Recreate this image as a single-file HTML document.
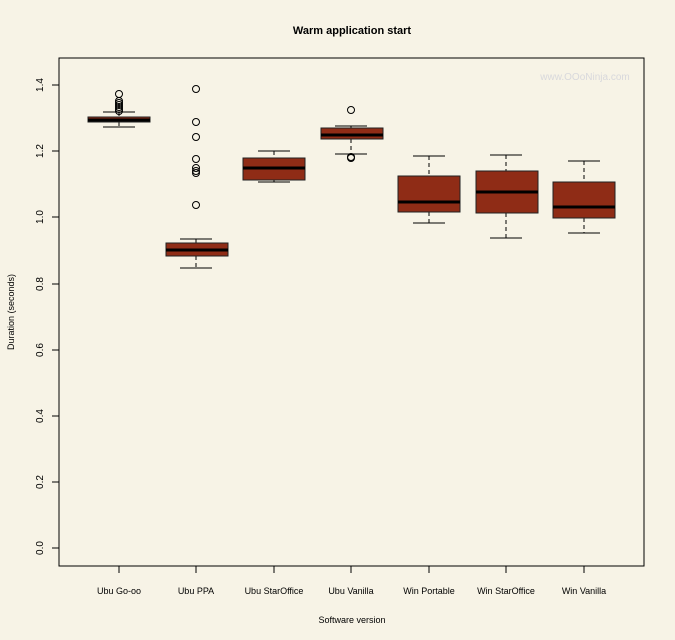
<!DOCTYPE html>
<html><head><meta charset="utf-8"><style>
html,body{margin:0;padding:0;background:#f7f3e6;}
svg{display:block;font-family:"Liberation Sans",sans-serif;}
</style></head><body>
<svg width="675" height="640" viewBox="0 0 675 640" xmlns="http://www.w3.org/2000/svg">
<rect width="675" height="640" fill="#f7f3e6"/>
<text x="352" y="34" font-size="11" font-weight="bold" text-anchor="middle">Warm application start</text>
<text x="585" y="80" font-size="10" fill="#d8d8dc" text-anchor="middle">www.OOoNinja.com</text>
<rect x="59" y="58" width="585" height="508" fill="none" stroke="#000" stroke-width="1"/>
<g stroke="#000" stroke-width="1">
<line x1="52" y1="85" x2="59" y2="85"/><line x1="52" y1="151" x2="59" y2="151"/>
<line x1="52" y1="217" x2="59" y2="217"/><line x1="52" y1="284" x2="59" y2="284"/>
<line x1="52" y1="350" x2="59" y2="350"/><line x1="52" y1="416" x2="59" y2="416"/>
<line x1="52" y1="482" x2="59" y2="482"/><line x1="52" y1="548" x2="59" y2="548"/>
<line x1="119" y1="566" x2="119" y2="573"/><line x1="196" y1="566" x2="196" y2="573"/>
<line x1="274" y1="566" x2="274" y2="573"/><line x1="351" y1="566" x2="351" y2="573"/>
<line x1="429" y1="566" x2="429" y2="573"/><line x1="506" y1="566" x2="506" y2="573"/>
<line x1="584" y1="566" x2="584" y2="573"/>
</g>
<g font-size="10" text-anchor="middle">
<text transform="translate(43,85) rotate(-90)">1.4</text>
<text transform="translate(43,151) rotate(-90)">1.2</text>
<text transform="translate(43,217) rotate(-90)">1.0</text>
<text transform="translate(43,284) rotate(-90)">0.8</text>
<text transform="translate(43,350) rotate(-90)">0.6</text>
<text transform="translate(43,416) rotate(-90)">0.4</text>
<text transform="translate(43,482) rotate(-90)">0.2</text>
<text transform="translate(43,548) rotate(-90)">0.0</text>
</g>
<g font-size="9" text-anchor="middle">
<text x="119" y="594">Ubu Go-oo</text><text x="196" y="594">Ubu PPA</text>
<text x="274" y="594">Ubu StarOffice</text><text x="351" y="594">Ubu Vanilla</text>
<text x="429" y="594">Win Portable</text><text x="506" y="594">Win StarOffice</text>
<text x="584" y="594">Win Vanilla</text>
<text x="352" y="623">Software version</text>
<text transform="translate(14,312) rotate(-90)">Duration (seconds)</text>
</g>
<g stroke="#000" stroke-width="1" fill="none">
<!-- box helper: whiskers -->
<g stroke-dasharray="4,3">
<line x1="119" y1="112" x2="119" y2="117"/><line x1="119" y1="122" x2="119" y2="127"/>
<line x1="196" y1="239" x2="196" y2="243"/><line x1="196" y1="256" x2="196" y2="268"/>
<line x1="274" y1="151" x2="274" y2="158"/><line x1="274" y1="180" x2="274" y2="182"/>
<line x1="351" y1="126" x2="351" y2="128"/><line x1="351" y1="139" x2="351" y2="154"/>
<line x1="429" y1="156" x2="429" y2="176"/><line x1="429" y1="212" x2="429" y2="223"/>
<line x1="506" y1="155" x2="506" y2="171"/><line x1="506" y1="213" x2="506" y2="238"/>
<line x1="584" y1="161" x2="584" y2="182"/><line x1="584" y1="218" x2="584" y2="233"/>
</g>
<line x1="103" y1="112" x2="135" y2="112"/><line x1="103" y1="127" x2="135" y2="127"/>
<line x1="180" y1="239" x2="212" y2="239"/><line x1="180" y1="268" x2="212" y2="268"/>
<line x1="258" y1="151" x2="290" y2="151"/><line x1="258" y1="182" x2="290" y2="182"/>
<line x1="335" y1="126" x2="367" y2="126"/><line x1="335" y1="154" x2="367" y2="154"/>
<line x1="413" y1="156" x2="445" y2="156"/><line x1="413" y1="223" x2="445" y2="223"/>
<line x1="490" y1="155" x2="522" y2="155"/><line x1="490" y1="238" x2="522" y2="238"/>
<line x1="568" y1="161" x2="600" y2="161"/><line x1="568" y1="233" x2="600" y2="233"/>
</g>
<g fill="#8f2c16" stroke="#222" stroke-width="1">
<rect x="88" y="117" width="62" height="5"/>
<rect x="166" y="243" width="62" height="13"/>
<rect x="243" y="158" width="62" height="22"/>
<rect x="321" y="128" width="62" height="11"/>
<rect x="398" y="176" width="62" height="36"/>
<rect x="476" y="171" width="62" height="42"/>
<rect x="553" y="182" width="62" height="36"/>
</g>
<g stroke="#000" stroke-width="3">
<line x1="88" y1="120" x2="150" y2="120"/>
<line x1="166" y1="250" x2="228" y2="250"/>
<line x1="243" y1="168" x2="305" y2="168"/>
<line x1="321" y1="135" x2="383" y2="135"/>
<line x1="398" y1="202" x2="460" y2="202"/>
<line x1="476" y1="192" x2="538" y2="192"/>
<line x1="553" y1="207" x2="615" y2="207"/>
</g>
<g fill="none" stroke="#000" stroke-width="1">
<circle cx="119" cy="94" r="3.5"/>
<circle cx="119" cy="101" r="3.5"/><circle cx="119" cy="103" r="3.5"/><circle cx="119" cy="105" r="3.5"/>
<circle cx="119" cy="107" r="3.5"/><circle cx="119" cy="109" r="3.5"/><circle cx="119" cy="111" r="3.5"/>
<circle cx="196" cy="89" r="3.5"/><circle cx="196" cy="122" r="3.5"/><circle cx="196" cy="137" r="3.5"/>
<circle cx="196" cy="159" r="3.5"/><circle cx="196" cy="168" r="3.5"/><circle cx="196" cy="171" r="3.5"/>
<circle cx="196" cy="173" r="3.5"/><circle cx="196" cy="205" r="3.5"/>
<circle cx="351" cy="110" r="3.5"/><circle cx="351" cy="157" r="3.5"/><circle cx="351" cy="158" r="3.5"/>
</g>
</svg>
</body></html>
